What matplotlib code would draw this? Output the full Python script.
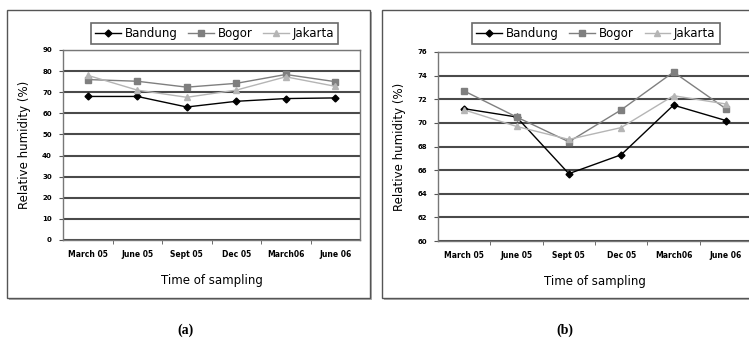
import matplotlib
matplotlib.use("Agg")
import matplotlib.pyplot as plt
from matplotlib.patches import Rectangle

categories = ["March 05", "June 05", "Sept 05", "Dec 05", "March06", "June 06"]
series_names = ["Bandung", "Bogor", "Jakarta"]

# Panel (a)
a_bandung = [68.0, 68.0, 63.0, 65.7, 67.0, 67.3]
a_bogor = [76.0, 75.2, 72.4, 74.2, 78.4, 75.0]
a_jakarta = [78.0, 71.0, 67.6, 71.0, 77.3, 72.8]
a_yticks = [0, 10, 20, 30, 40, 50, 60, 70, 80, 90]

# Panel (b)
b_bandung = [71.2, 70.5, 65.7, 67.3, 71.5, 70.2]
b_bogor = [72.7, 70.5, 68.4, 71.1, 74.3, 71.2]
b_jakarta = [71.1, 69.7, 68.6, 69.6, 72.3, 71.6]
b_yticks = [60, 62, 64, 66, 68, 70, 72, 74, 76]

W, H = 749, 350
fig = plt.figure(figsize=(W / 100, H / 100), dpi=100)

def fx(px):
    return px / W

def fy(py):
    return 1 - py / H

# outer frames
for (x0, x1) in [(7, 370), (382, 752)]:
    fig.patches.append(Rectangle((fx(x0 + 2), fy(300)), fx(x1 - x0), fy(12) - fy(300),
                                 transform=fig.transFigure, facecolor="#b0b0b0", edgecolor="none", zorder=-3))
    fig.patches.append(Rectangle((fx(x0), fy(298)), fx(x1 - x0), fy(10) - fy(298),
                                 transform=fig.transFigure, facecolor="white", edgecolor="#555555",
                                 linewidth=1.0, zorder=-2))

styles = [
    dict(color="black", marker="D", markersize=3.5),
    dict(color="#7f7f7f", marker="s", markersize=4),
    dict(color="#b5b5b5", marker="^", markersize=4),
]

def panel(rect, data, yticks, legrect, caption_x, caption):
    x0, y0, x1, y1 = rect
    ax = fig.add_axes([fx(x0), fy(y1), fx(x1 - x0), fy(y0) - fy(y1)])
    ax.set_zorder(2)
    xs = list(range(len(categories)))
    lines = []
    for vals, st, name in zip(data, styles, series_names):
        ln, = ax.plot(xs, vals, linewidth=1.0, label=name, zorder=3, **st)
        lines.append(ln)
    ax.set_xlim(-0.5, len(categories) - 0.5)
    ax.set_ylim(yticks[0], yticks[-1])
    ax.set_yticks(yticks)
    ax.set_yticklabels([str(t) for t in yticks], fontsize=5, fontweight="bold")
    ax.set_xticks(xs)
    ax.set_xticklabels(categories, fontsize=5.5, fontweight="bold")
    ax.set_xticks([i + 0.5 for i in range(len(categories) - 1)], minor=True)
    ax.tick_params(axis="x", which="major", length=0, pad=7)
    ax.tick_params(axis="x", which="minor", length=3, color="#555555")
    ax.tick_params(axis="y", length=3, color="#555555", pad=5)
    ax.grid(axis="y", color="#4a4a4a", linewidth=1.5, zorder=1)
    for s in ax.spines.values():
        s.set_color("#777777")
        s.set_linewidth(1.0)
    ax.set_ylabel("Relative humidity (%)", fontsize=8.5, labelpad=8)
    ax.set_xlabel("Time of sampling", fontsize=8.5, labelpad=11)
    lx0, ly0, lx1, ly1 = legrect
    lax = fig.add_axes([fx(lx0), fy(ly1), fx(lx1 - lx0), fy(ly0) - fy(ly1)])
    lax.set_zorder(3)
    lax.axis("off")
    leg = lax.legend(handles=lines, loc="center", ncol=3, fontsize=8.5, frameon=True,
                     fancybox=False, edgecolor="#444444", handlelength=2.2,
                     columnspacing=0.9, handletextpad=0.3, borderpad=0.35,
                     borderaxespad=0.0)
    leg.get_frame().set_linewidth(1.2)
    fig.text(fx(caption_x), fy(330), caption,
             ha="center", va="center", fontsize=10, fontweight="bold", family="Liberation Serif")
    return ax

panel((63, 50, 360, 240), [a_bandung, a_bogor, a_jakarta], a_yticks, (93, 21, 336, 46), 185, "(a)")
panel((438, 52, 752, 241), [b_bandung, b_bogor, b_jakarta], b_yticks, (472, 21, 720, 46), 565, "(b)")

fig.savefig("out.png", dpi=100)
